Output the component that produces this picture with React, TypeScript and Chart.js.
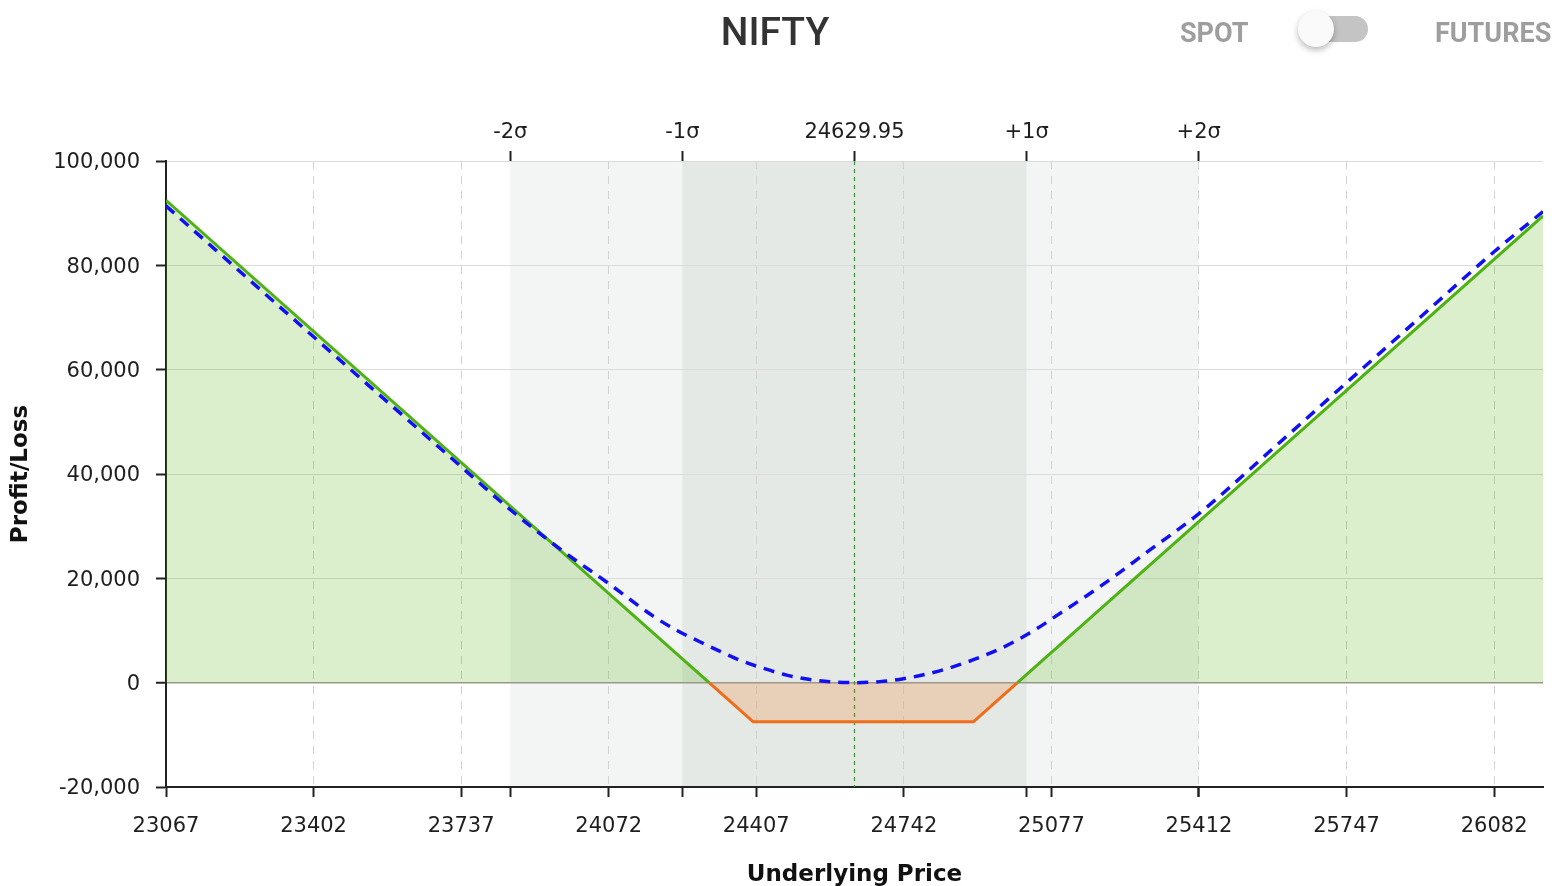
import React, { useEffect, useRef } from 'react';
import { Chart, registerables } from 'chart.js';

Chart.register(...registerables);

// ---------- data ----------
const priceTicks = [23067, 23402, 23737, 24072, 24407, 24742, 25077, 25412, 25747, 26082];
const priceMin = 23067;
const priceMax = 26193;
const spotPrice = 24629.95;
const sigmaTickValues = [23848.5, 24239.2, 24629.95, 25020.7, 25411.4];
const sigmaTickLabels = ['-2σ', '-1σ', '24629.95', '+1σ', '+2σ'];
const plMin = -20000;
const plMax = 100000;
const plStep = 20000;

// payoff at expiry
const expiryPrices = [23067, 24300, 24400, 24900, 25000, 26193];
const expiryPL = [92475, 0, -7500, -7500, 0, 89475];

// payoff today (T+0)
const todayPrices = [
  23067, 23402, 23737, 23848, 23962, 24072, 24174, 24227, 24280, 24325, 24370,
  24423, 24476, 24529, 24582, 24630, 24688, 24741, 24794, 24847, 24900, 24953,
  24997, 25043, 25088, 25187, 25300, 25412, 25580, 25747, 25915, 26082, 26193,
];
const todayPL = [
  91400, 66300, 41400, 33200, 25600, 19000, 12700, 10000, 7800, 6000, 4300,
  2750, 1450, 600, 150, 0, 200, 750, 1650, 2850, 4400, 6200,
  8050, 10300, 12800, 18400, 25400, 32400, 44900, 57500, 70100, 82600, 90300,
];

// ---------- styles ----------
const GREEN = '#4fb214';
const ORANGE = '#ef6c1a';
const GREEN_FILL = 'rgba(76,175,0,0.2)';
const ORANGE_FILL = 'rgba(240,115,25,0.22)';
const BLUE = '#1010f2';
const TICK_FONT = { family: '"DejaVu Sans", Verdana, sans-serif', size: 21 };
const TITLE_FONT = { family: '"DejaVu Sans", Verdana, sans-serif', size: 23, weight: 'bold' as const };

const bandsPlugin = {
  id: 'sigmaBands',
  beforeDraw(chart: any) {
    const { ctx, chartArea, scales } = chart;
    const x = scales.x;
    const { top, bottom } = chartArea;
    ctx.save();
    const a2 = x.getPixelForValue(sigmaTickValues[0]);
    const b2 = x.getPixelForValue(sigmaTickValues[4]);
    const a1 = x.getPixelForValue(sigmaTickValues[1]);
    const b1 = x.getPixelForValue(sigmaTickValues[3]);
    ctx.fillStyle = '#f3f5f4';
    ctx.fillRect(a2, top, b2 - a2, bottom - top);
    ctx.fillStyle = '#e4e9e6';
    ctx.fillRect(a1, top, b1 - a1, bottom - top);
    ctx.restore();
  },
  beforeDatasetsDraw(chart: any) {
    const { ctx, chartArea, scales } = chart;
    const px = Math.round(scales.x.getPixelForValue(spotPrice)) + 0.5;
    ctx.save();
    ctx.strokeStyle = '#3d9a3d';
    ctx.lineWidth = 1.3;
    ctx.setLineDash([4, 4]);
    ctx.beginPath();
    ctx.moveTo(px, chartArea.top);
    ctx.lineTo(px, chartArea.bottom);
    ctx.stroke();
    ctx.restore();
  },
};

function PayoffChart() {
  const ref = useRef<HTMLCanvasElement | null>(null);
  useEffect(() => {
    if (!ref.current) return;
    const isSigma = (v: number) => sigmaTickValues.includes(v);
    const chart = new Chart(ref.current, {
      type: 'line',
      data: {
        datasets: [
          {
            label: 'Today',
            data: todayPrices.map((p, i) => ({ x: p, y: todayPL[i] })),
            borderColor: BLUE,
            borderWidth: 3.5,
            borderDash: [11, 8],
            pointRadius: 0,
            fill: false,
            cubicInterpolationMode: 'monotone',
          } as any,
          {
            label: 'Expiry',
            data: expiryPrices.map((p, i) => ({ x: p, y: expiryPL[i] })),
            borderColor: GREEN,
            borderWidth: 3,
            pointRadius: 0,
            tension: 0,
            fill: { target: { value: 0 }, above: GREEN_FILL, below: ORANGE_FILL },
            segment: {
              borderColor: (c: any) => (c.p0.parsed.y < 0 || c.p1.parsed.y < 0 ? ORANGE : GREEN),
            },
          } as any,
        ],
      },
      options: {
        animation: false,
        responsive: false,
        devicePixelRatio: 1,
        layout: { padding: { left: 0, right: 13, top: 0, bottom: 0 } },
        plugins: { legend: { display: false }, tooltip: { enabled: false } },
        scales: {
          x: {
            type: 'linear',
            position: 'bottom',
            min: priceMin,
            max: priceMax,
            afterBuildTicks: (s: any) => {
              const vals = [...priceTicks, ...sigmaTickValues.filter((v) => v !== spotPrice)].sort((a, b) => a - b);
              s.ticks = vals.map((v) => ({ value: v }));
            },
            afterFit: (s: any) => {
              s.height = 99;
            },
            ticks: {
              autoSkip: false,
              maxRotation: 0,
              minRotation: 0,
              padding: 17,
              color: '#1e1e1e',
              font: TICK_FONT,
              callback: (v: any) => (priceTicks.includes(v) ? String(v) : ''),
            },
            grid: {
              color: (c: any) => (c.tick && isSigma(c.tick.value) ? 'rgba(0,0,0,0)' : '#d2d2d2'),
              tickColor: '#222',
              tickLength: 10,
              tickWidth: 2,
              lineWidth: 1,
            },
            border: { display: true, color: '#222', width: 2, dash: [8, 7] },
            title: {
              display: true,
              text: 'Underlying Price',
              color: '#111',
              font: TITLE_FONT,
              padding: { top: 0, bottom: -3 },
            },
          },
          x2: {
            type: 'linear',
            position: 'top',
            min: priceMin,
            max: priceMax,
            afterBuildTicks: (s: any) => {
              s.ticks = sigmaTickValues.map((v) => ({ value: v }));
            },
            afterFit: (s: any) => {
              s.height = 161;
            },
            ticks: {
              autoSkip: false,
              maxRotation: 0,
              minRotation: 0,
              padding: 6,
              color: '#1e1e1e',
              font: TICK_FONT,
              callback: (_v: any, i: number) => sigmaTickLabels[i],
            },
            grid: {
              drawOnChartArea: false,
              tickColor: '#222',
              tickLength: 10,
              tickWidth: 2,
            },
            border: { display: false },
          },
          y: {
            type: 'linear',
            min: plMin,
            max: plMax,
            afterFit: (s: any) => {
              s.width = 166;
            },
            ticks: {
              stepSize: plStep,
              padding: 16,
              labelOffset: 2,
              color: '#1e1e1e',
              font: TICK_FONT,
              callback: (v: any) => Number(v).toLocaleString('en-US'),
            },
            grid: {
              color: (c: any) => (c.tick && c.tick.value === 0 ? '#9a9a9a' : '#dcdcdc'),
              lineWidth: (c: any) => (c.tick && c.tick.value === 0 ? 1.5 : 1),
              tickColor: '#222',
              tickLength: 10,
              tickWidth: 2,
            },
            border: { display: true, color: '#222', width: 2 },
            title: {
              display: true,
              text: 'Profit/Loss',
              color: '#111',
              font: TITLE_FONT,
              padding: { top: 7, bottom: 0 },
            },
          },
        },
      } as any,
      plugins: [bandsPlugin],
    });
    return () => chart.destroy();
  }, []);
  return <canvas ref={ref} width={1556} height={886} style={{ position: 'absolute', left: 0, top: 0, width: 1556, height: 886 }} />;
}

export default function App() {
  const label: React.CSSProperties = {
    position: 'absolute',
    fontFamily: 'Roboto, sans-serif',
    fontWeight: 700,
    fontSize: 27,
    lineHeight: '27px',
    color: '#9e9e9e',
    top: 20,
    whiteSpace: 'nowrap',
  };
  return (
    <div style={{ position: 'absolute', left: 0, top: 0, width: 1556, height: 886, background: '#fff', overflow: 'hidden' }}>
      <PayoffChart />
      <div
        style={{
          position: 'absolute',
          left: 0,
          width: 1550,
          top: 13,
          textAlign: 'center',
          fontFamily: 'Roboto, sans-serif',
          fontWeight: 500,
          fontSize: 39,
          lineHeight: '39px',
          color: '#333',
        }}
      >
        NIFTY
      </div>
      <div style={{ ...label, left: 1180 }}>SPOT</div>
      <div
        style={{
          position: 'absolute',
          left: 1302,
          top: 16,
          width: 66,
          height: 26,
          borderRadius: 13,
          background: '#c4c4c4',
        }}
      />
      <div
        style={{
          position: 'absolute',
          left: 1298,
          top: 11,
          width: 36,
          height: 36,
          borderRadius: 18,
          background: '#fafafa',
          boxShadow: '0 3px 6px rgba(0,0,0,0.28)',
        }}
      />
      <div style={{ ...label, left: 1435 }}>FUTURES</div>
    </div>
  );
}
